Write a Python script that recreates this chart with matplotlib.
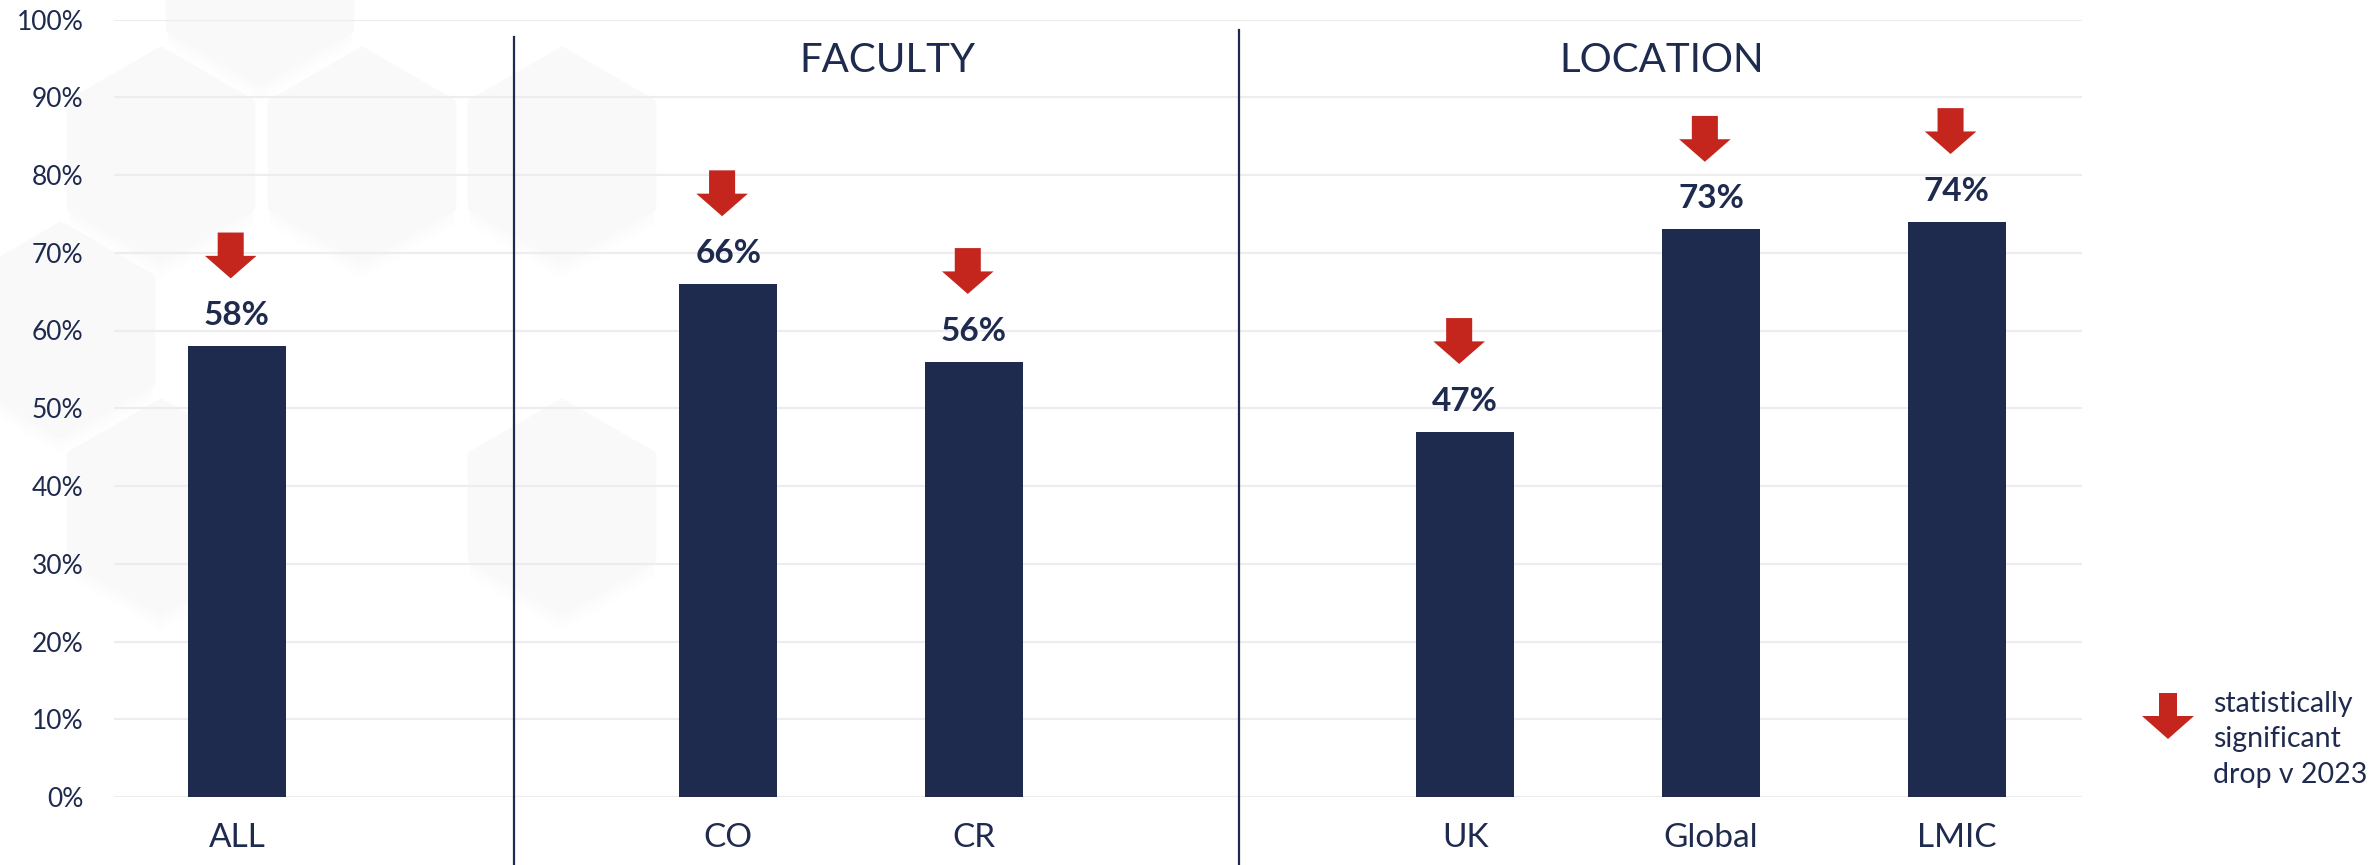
import matplotlib
matplotlib.use("Agg")
import matplotlib.pyplot as plt
from matplotlib.patches import Polygon, RegularPolygon

# Data
categories = ["ALL", "CO", "CR", "UK", "Global", "LMIC"]
values = [58, 66, 56, 47, 73, 74]
sig_drop = [True, True, True, True, True, True]
groups = ["FACULTY", "LOCATION"]
y_ticks = [0, 10, 20, 30, 40, 50, 60, 70, 80, 90, 100]
legend_text = "statistically\nsignificant\ndrop v 2023"

# Layout (slot positions, not data)
x_pos = [0, 2, 3, 5, 6, 7]
group_x = [2.65, 5.80]
sep_x = [1.13, 4.08]
bar_w = 0.40

NAVY = "#1F2B4E"
RED = "#C4261E"
GRID = "#EDEDED"
FONT = "Lato"

plt.rcParams["font.family"] = [FONT, "DejaVu Sans"]

fig = plt.figure(figsize=(23.74, 8.65), dpi=100)

# ----------------------------------------
# Background decoration (pixel coordinates)
# ----------------------------------------
bg = fig.add_axes([0, 0, 1, 1], zorder=0)
bg.set_xlim(0, 2374)
bg.set_ylim(865, 0)
bg.axis("off")

hex_centres = [(260, -23), (161, 155), (362, 155), (562, 155),
               (61, 330), (161, 507), (562, 507)]
for cx, cy in hex_centres:
    for k in range(5):
        bg.add_patch(RegularPolygon((cx, cy + 6 + 3 * k), 6, radius=103 + k,
                                    facecolor="black", edgecolor="none",
                                    alpha=0.004))
    bg.add_patch(RegularPolygon((cx, cy), 6, radius=104,
                                facecolor="#F9F9F9", edgecolor="#F9F9F9",
                                linewidth=6, joinstyle="round"))

# legend arrow + text
lx, ly = 2168, 693
bg.add_patch(Polygon([(lx - 9, ly), (lx + 9, ly), (lx + 9, ly + 23),
                      (lx + 26, ly + 23), (lx, ly + 46),
                      (lx - 26, ly + 23), (lx - 9, ly + 23)],
                     closed=True, facecolor=RED, edgecolor="none"))
bg.text(2213, 691, legend_text, fontsize=20.5, color=NAVY,
        va="top", ha="left", linespacing=1.45)

# ----------------------------------------
# Main chart
# ----------------------------------------
ax = fig.add_axes([114 / 2374, 68 / 865, 1968 / 2374, 777.5 / 865], zorder=1)
ax.patch.set_alpha(0)

ax.bar(x_pos, values, width=bar_w, color=NAVY, zorder=3)

for x, v, s in zip(x_pos, values, sig_drop):
    ax.text(x, v + 2.7, f"{v}%", ha="center", va="baseline",
            fontsize=24, fontweight="bold", color=NAVY, zorder=4)
    if s:
        ax_x = x - 0.025
        ax.add_patch(Polygon([(ax_x - 0.053, v + 14.6), (ax_x + 0.053, v + 14.6),
                              (ax_x + 0.053, v + 11.6), (ax_x + 0.105, v + 11.6),
                              (ax_x, v + 8.7),
                              (ax_x - 0.105, v + 11.6), (ax_x - 0.053, v + 11.6)],
                             closed=True, facecolor=RED, edgecolor="none",
                             zorder=4))

for gx, g in zip(group_x, groups):
    ax.text(gx, 93.2, g, ha="center", va="baseline",
            fontsize=29, color=NAVY)

ax.plot([sep_x[0], sep_x[0]], [97.7, -8.8], color=NAVY, lw=1.6,
        clip_on=False, zorder=2)
ax.plot([sep_x[1], sep_x[1]], [98.6, -8.8], color=NAVY, lw=1.6,
        clip_on=False, zorder=2)

ax.set_xlim(-0.5, 7.51)
ax.set_ylim(0, 100)
ax.set_yticks(y_ticks)
ax.set_yticklabels([f"{t}%" for t in y_ticks])
ax.set_xticks(x_pos)
ax.set_xticklabels(categories)

ax.tick_params(axis="y", length=0, pad=22, labelsize=19, labelcolor=NAVY)
ax.tick_params(axis="x", length=0, pad=19, labelsize=24, labelcolor=NAVY)

ax.yaxis.grid(True, color=GRID, linewidth=1.6, zorder=0)
ax.set_axisbelow(True)
for sp in ax.spines.values():
    sp.set_visible(False)

fig.savefig("out.png", dpi=100)
